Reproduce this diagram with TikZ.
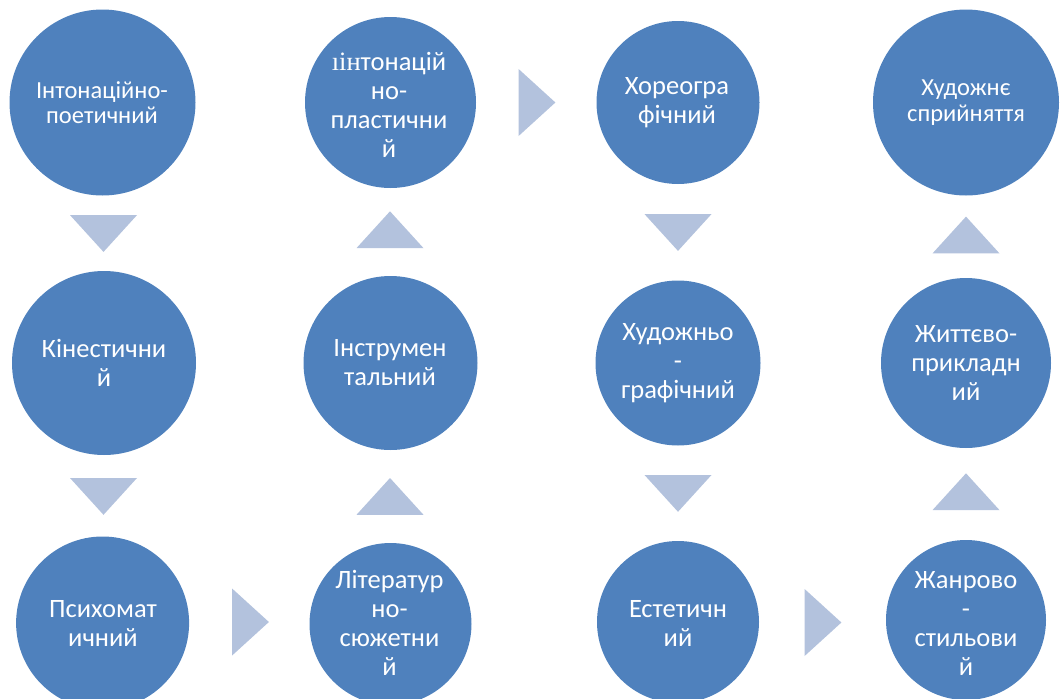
\documentclass[tikz,border=0pt]{standalone}
\usepackage{fontspec}
\setmainfont{Carlito}
\newfontfamily\serifcyr{Liberation Serif}
\usetikzlibrary{calc}
\definecolor{circblue}{HTML}{4F81BD}
\definecolor{trifill}{HTML}{B3C2DD}
\begin{document}
\begin{tikzpicture}[x=1pt,y=-1pt,
  circ/.style={circle, fill=circblue, draw=none, inner sep=0pt, minimum size=#1},
  lbl/.style={text=white, align=center, font=\fontsize{26.5}{29}\selectfont, inner sep=0pt},
  lbltight/.style={lbl, font=\fontsize{24.5}{25.5}\selectfont},
  tri/.style={fill=trifill, draw=none},
  tridn/.style={insert path={++(-33.5,-18.4) -- ++(67,0) -- ++(-33.5,36.8) -- cycle}},
  triup/.style={insert path={++(-33.5,18.4) -- ++(67,0) -- ++(-33.5,-36.8) -- cycle}},
  trirt/.style={insert path={++(-18.4,-33.5) -- ++(0,67) -- ++(36.8,-33.5) -- cycle}}]
\useasboundingbox (0,0) rectangle (1061,699);
\clip (0,0) rectangle (1061,699);

% circles
\node[circ=186pt] (c1) at (102.5,102.5) {};
\node[circ=171pt] (c2) at (390.5,102.5) {};
\node[circ=163pt] (c3) at (678,102.5) {};
\node[circ=186pt] (c4) at (966,102.5) {};
\node[circ=184pt] (c5) at (104,363) {};
\node[circ=174pt] (c6) at (390.5,363) {};
\node[circ=165pt] (c7) at (678,363) {};
\node[circ=170pt] (c8) at (966,363) {};
\node[circ=173pt] (c9) at (102.6,623) {};
\node[circ=162pt] (c10) at (390.5,624) {};
\node[circ=162pt] (c11) at (678,622) {};
\node[circ=160pt] (c12) at (966,620) {};

% labels
\node[lbltight] (t1) at (102,102.5) {Інтонаційно-\\поетичний};
\node[lbl] (t2) at (389,105) {{\serifcyr ıін}тонацій\\но-\\пластични\\й};
\node[lbl] (t3) at (677,102.5) {Хореогра\\фічний};
\node[lbltight] (t4) at (966,102.5) {Художнє\\сприйняття};
\node[lbl] (t5) at (104,363) {Кінестични\\й};
\node[lbl] (t6) at (390,363) {Інструмен\\тальний};
\node[lbl] (t7) at (678,363) {Художньо\\-\\графічний};
\node[lbl] (t8) at (966,363) {Життєво-\\прикладн\\ий};
\node[lbl] (t9) at (103,623) {Психомат\\ичний};
\node[lbl] (t10) at (389.5,623) {Літератур\\но-\\сюжетни\\й};
\node[lbl] (t11) at (678,623) {Естетичн\\ий};
\node[lbl] (t12) at (966,623) {Жанрово\\-\\стильови\\й};

% arrow triangles
\coordinate (a15) at (103.5,233.5);
\coordinate (a59) at (103.5,496.4);
\coordinate (a910) at (250.5,622);
\coordinate (a106) at (390,496.4);
\coordinate (a62) at (390,229.7);
\coordinate (a23) at (537,102.5);
\coordinate (a37) at (678,232.5);
\coordinate (a711) at (678,493.4);
\coordinate (a1112) at (823,622.5);
\coordinate (a128) at (966,491.7);
\coordinate (a84) at (966,235);

\fill[tri] (a15) [tridn];
\fill[tri] (a59) [tridn];
\fill[tri] (a910) [trirt];
\fill[tri] (a106) [triup];
\fill[tri] (a62) [triup];
\fill[tri] (a23) [trirt];
\fill[tri] (a37) [tridn];
\fill[tri] (a711) [tridn];
\fill[tri] (a1112) [trirt];
\fill[tri] (a128) [triup];
\fill[tri] (a84) [triup];
\end{tikzpicture}
\end{document}
